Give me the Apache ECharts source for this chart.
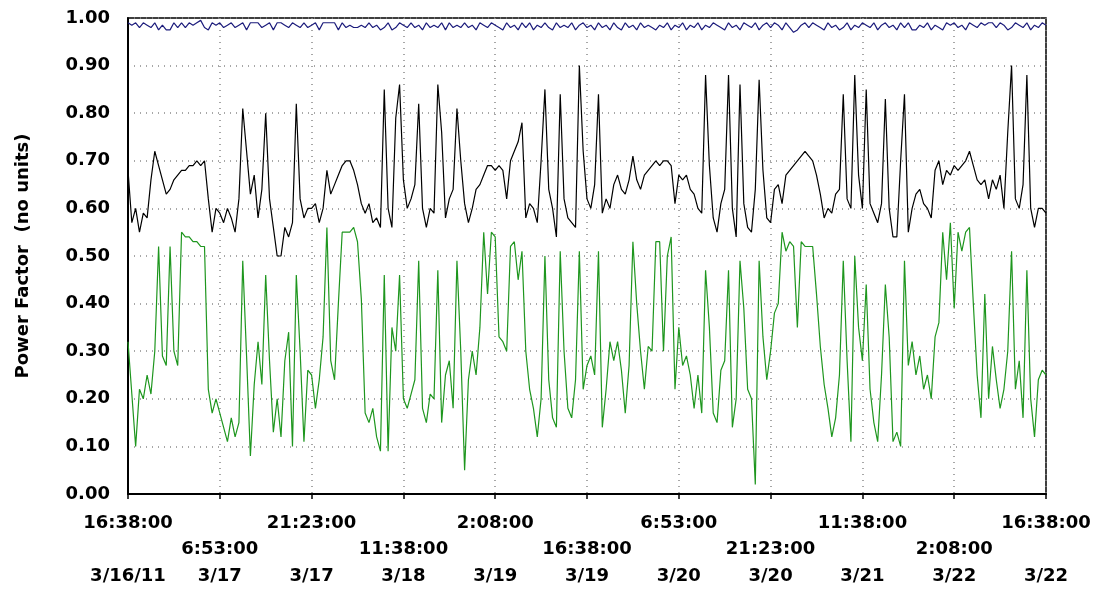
<!DOCTYPE html>
<html>
<head>
<meta charset="utf-8">
<script src="https://cdn.jsdelivr.net/npm/echarts@6/dist/echarts.min.js"></script>
<style>
  html, body { margin: 0; padding: 0; background: #fff; }
  #chart { width: 1103px; height: 595px; }
</style>
</head>
<body>
<div id="chart"></div>
<script>
// tick labels along the time axis (one every 24 samples)
let tickTimes = ["16:38:00", "6:53:00", "21:23:00", "11:38:00", "2:08:00", "16:38:00",
                 "6:53:00", "21:23:00", "11:38:00", "2:08:00", "16:38:00"];
let tickDates = ["3/16/11", "3/17", "3/17", "3/18", "3/19", "3/19",
                 "3/20", "3/20", "3/21", "3/22", "3/22"];
let samplesPerTick = 24;

// power factor, upper (blue) trace
let pfBlue = [
  0.99,0.985,0.99,0.98,0.99,0.985,0.98,0.99,0.975,0.985,0.975,0.975,0.99,0.98,0.99,0.98,0.99,0.985,0.99,0.995,0.98,0.975,0.99,0.985,
  0.99,0.98,0.985,0.99,0.98,0.985,0.99,0.975,0.99,0.99,0.99,0.98,0.985,0.99,0.975,0.99,0.99,0.985,0.98,0.99,0.985,0.98,0.99,0.98,
  0.985,0.99,0.975,0.99,0.99,0.99,0.99,0.975,0.99,0.98,0.985,0.98,0.98,0.985,0.98,0.99,0.98,0.985,0.975,0.98,0.99,0.975,0.98,0.99,
  0.985,0.98,0.99,0.98,0.985,0.975,0.99,0.98,0.985,0.98,0.99,0.975,0.99,0.98,0.985,0.98,0.99,0.98,0.985,0.975,0.99,0.985,0.98,0.99,
  0.985,0.98,0.975,0.99,0.98,0.985,0.975,0.99,0.98,0.99,0.975,0.985,0.98,0.99,0.98,0.975,0.99,0.98,0.985,0.98,0.99,0.975,0.985,0.99,
  0.98,0.985,0.975,0.99,0.98,0.985,0.975,0.99,0.98,0.975,0.99,0.98,0.985,0.975,0.99,0.98,0.985,0.98,0.975,0.985,0.98,0.99,0.975,0.985,
  0.98,0.99,0.975,0.985,0.98,0.99,0.975,0.985,0.98,0.99,0.985,0.98,0.975,0.99,0.98,0.985,0.975,0.99,0.985,0.98,0.99,0.975,0.985,0.99,
  0.98,0.99,0.985,0.975,0.99,0.98,0.97,0.975,0.985,0.99,0.98,0.99,0.985,0.98,0.975,0.99,0.98,0.985,0.975,0.98,0.99,0.975,0.985,0.98,
  0.99,0.985,0.98,0.99,0.975,0.985,0.99,0.98,0.985,0.975,0.99,0.98,0.99,0.975,0.975,0.985,0.98,0.99,0.975,0.985,0.98,0.975,0.99,0.985,
  0.99,0.98,0.985,0.975,0.99,0.985,0.98,0.99,0.985,0.99,0.99,0.98,0.99,0.985,0.975,0.98,0.99,0.985,0.98,0.99,0.975,0.985,0.98,0.99,0.985
];

// power factor, middle (black) trace
let pfBlack = [
  0.68,0.57,0.60,0.55,0.59,0.58,0.66,0.72,0.69,0.66,0.63,0.64,0.66,0.67,0.68,0.68,0.69,0.69,0.70,0.69,0.70,0.62,0.55,0.60,
  0.59,0.57,0.60,0.58,0.55,0.62,0.81,0.72,0.63,0.67,0.58,0.64,0.80,0.62,0.56,0.50,0.50,0.56,0.54,0.57,0.82,0.62,0.58,0.60,
  0.60,0.61,0.57,0.60,0.68,0.63,0.65,0.67,0.69,0.70,0.70,0.68,0.65,0.61,0.59,0.61,0.57,0.58,0.56,0.85,0.60,0.56,0.79,0.86,
  0.66,0.60,0.62,0.65,0.82,0.60,0.56,0.60,0.59,0.86,0.76,0.58,0.62,0.64,0.81,0.70,0.61,0.57,0.60,0.64,0.65,0.67,0.69,0.69,
  0.68,0.69,0.68,0.62,0.70,0.72,0.74,0.78,0.58,0.61,0.60,0.57,0.70,0.85,0.64,0.60,0.54,0.84,0.62,0.58,0.57,0.56,0.90,0.72,
  0.62,0.60,0.65,0.84,0.59,0.62,0.60,0.65,0.67,0.64,0.63,0.66,0.71,0.66,0.64,0.67,0.68,0.69,0.70,0.69,0.70,0.70,0.69,0.61,
  0.67,0.66,0.67,0.64,0.63,0.60,0.59,0.88,0.69,0.58,0.55,0.61,0.64,0.88,0.60,0.54,0.86,0.61,0.56,0.55,0.64,0.87,0.68,0.58,
  0.57,0.64,0.65,0.61,0.67,0.68,0.69,0.70,0.71,0.72,0.71,0.70,0.67,0.63,0.58,0.60,0.59,0.63,0.64,0.84,0.62,0.60,0.88,0.67,
  0.60,0.85,0.61,0.59,0.57,0.61,0.83,0.60,0.54,0.54,0.70,0.84,0.55,0.60,0.63,0.64,0.61,0.60,0.58,0.68,0.70,0.65,0.68,0.67,
  0.69,0.68,0.69,0.70,0.72,0.69,0.66,0.65,0.66,0.62,0.66,0.64,0.67,0.60,0.76,0.90,0.62,0.60,0.65,0.88,0.60,0.56,0.60,0.60,0.59
];

// power factor, lower (green) trace
let pfGreen = [
  0.32,0.21,0.10,0.22,0.20,0.25,0.21,0.30,0.52,0.29,0.27,0.52,0.30,0.27,0.55,0.54,0.54,0.53,0.53,0.52,0.52,0.22,0.17,0.20,
  0.17,0.14,0.11,0.16,0.12,0.15,0.49,0.29,0.08,0.23,0.32,0.23,0.46,0.28,0.13,0.20,0.12,0.28,0.34,0.10,0.46,0.30,0.11,0.26,
  0.25,0.18,0.24,0.33,0.56,0.28,0.24,0.40,0.55,0.55,0.55,0.56,0.53,0.41,0.17,0.15,0.18,0.12,0.09,0.46,0.09,0.35,0.30,0.46,
  0.20,0.18,0.21,0.24,0.49,0.18,0.15,0.21,0.20,0.47,0.15,0.25,0.28,0.18,0.49,0.30,0.05,0.24,0.30,0.25,0.35,0.55,0.42,0.55,
  0.54,0.33,0.32,0.30,0.52,0.53,0.45,0.51,0.30,0.22,0.18,0.12,0.20,0.50,0.24,0.16,0.14,0.51,0.30,0.18,0.16,0.24,0.51,0.22,
  0.27,0.29,0.25,0.51,0.14,0.22,0.32,0.28,0.32,0.26,0.17,0.27,0.53,0.40,0.30,0.22,0.31,0.30,0.53,0.53,0.30,0.50,0.54,0.22,
  0.35,0.27,0.29,0.25,0.18,0.25,0.17,0.47,0.35,0.17,0.15,0.26,0.28,0.47,0.14,0.20,0.49,0.39,0.22,0.20,0.02,0.49,0.33,0.24,
  0.30,0.38,0.40,0.55,0.51,0.53,0.52,0.35,0.53,0.52,0.52,0.52,0.42,0.31,0.23,0.18,0.12,0.16,0.25,0.49,0.28,0.11,0.50,0.35,
  0.28,0.44,0.22,0.15,0.11,0.25,0.44,0.33,0.11,0.13,0.10,0.49,0.27,0.32,0.25,0.29,0.22,0.25,0.20,0.33,0.36,0.55,0.45,0.57,
  0.39,0.55,0.51,0.55,0.56,0.40,0.25,0.16,0.42,0.20,0.31,0.24,0.18,0.22,0.30,0.51,0.22,0.28,0.16,0.47,0.20,0.12,0.24,0.26,0.25
];

let fontName = "DejaVu Sans";

// pairs each value with its sample number
function to_points(values)
{
    let pts = [];
    values.forEach((v, i) => {
        pts.push([i, v]);
    });
    return pts;
}

function make_line(name, values, colour)
{
    return {
        name: name,
        type: 'line',
        data: to_points(values),
        showSymbol: false,
        symbol: 'none',
        lineStyle: { color: colour, width: 1.2 },
        itemStyle: { color: colour },
        z: 3
    };
}

let lastSample = samplesPerTick * (tickTimes.length - 1);

var myChart = echarts.init(document.getElementById("chart"));

let option = {
    animation: false,
    backgroundColor: '#fff',
    grid: {
        left: 128,
        right: 57,
        top: 18,
        bottom: 101,
        show: true,
        borderColor: '#000',
        borderWidth: 1.5
    },
    xAxis: {
        type: 'value',
        min: 0,
        max: lastSample,
        interval: samplesPerTick,
        axisLine: { show: true, onZero: false, lineStyle: { color: '#000', width: 2 } },
        axisTick: { show: true, length: 5, lineStyle: { color: '#000', width: 1.5 } },
        splitLine: { show: true, lineStyle: { color: '#8a8a8a', type: [1, 5], width: 1.5 } },
        axisLabel: {
            margin: 16,
            formatter: function (v) {
                let i = Math.round(v / samplesPerTick);
                if (i % 2 === 0)
                    return '{t|' + tickTimes[i] + '}\n{t| }\n{t|' + tickDates[i] + '}';
                return '{t| }\n{t|' + tickTimes[i] + '}\n{t|' + tickDates[i] + '}';
            },
            rich: {
                t: { fontFamily: fontName, fontWeight: 'bold', fontSize: 18, color: '#000', lineHeight: 26.5, align: 'center' }
            }
        }
    },
    yAxis: {
        type: 'value',
        min: 0,
        max: 1,
        interval: 0.1,
        name: 'Power Factor  (no units)',
        nameLocation: 'middle',
        nameGap: 96,
        nameRotate: 90,
        nameTextStyle: { fontFamily: fontName, fontWeight: 'bold', fontSize: 18, color: '#000' },
        axisLine: { show: true, lineStyle: { color: '#000', width: 2 } },
        axisTick: { show: false },
        splitLine: { show: true, lineStyle: { color: '#8a8a8a', type: [1, 5], width: 1.5 } },
        axisLabel: {
            margin: 18,
            fontFamily: fontName,
            fontWeight: 'bold',
            fontSize: 18,
            color: '#000',
            formatter: function (v) { return v.toFixed(2); }
        }
    },
    series: [
        make_line('PF upper', pfBlue, '#1c1c7c'),
        make_line('PF middle', pfBlack, '#000000'),
        make_line('PF lower', pfGreen, '#1e961e')
    ]
};

myChart.setOption(option);
</script>
</body>
</html>
